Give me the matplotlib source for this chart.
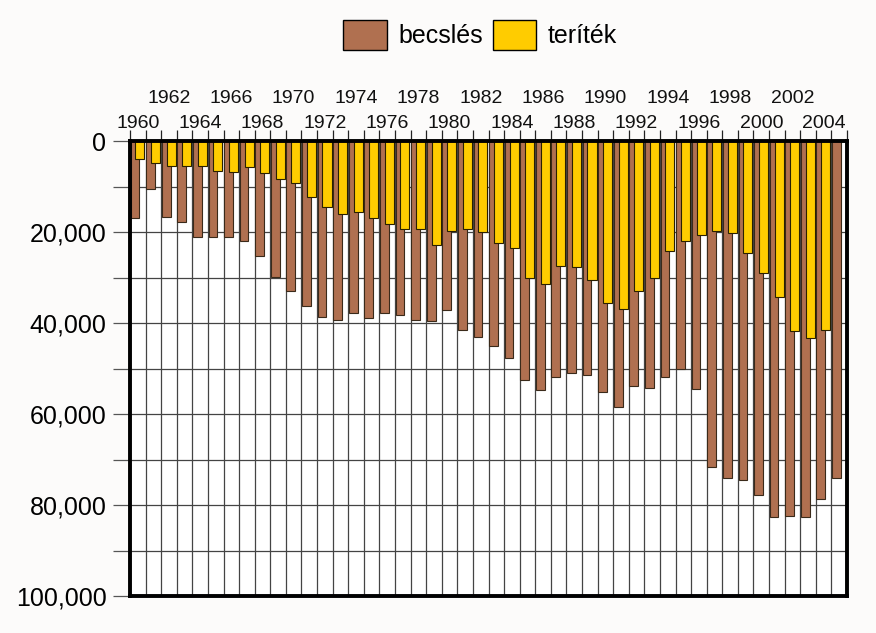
import matplotlib
matplotlib.use("Agg")
import matplotlib.pyplot as plt
import numpy as np
from matplotlib.patches import Patch
from matplotlib.ticker import FuncFormatter, MultipleLocator

plt.rcParams['font.family'] = ['Liberation Sans', 'DejaVu Sans']

years = np.arange(1960, 2006)
# becslés (estimate), 1960-2005
becsles = [16900, 10500, 16600, 17700, 21000, 21000, 21000, 21900, 25200, 29800,
           32900, 36200, 38600, 39300, 37900, 38900, 37700, 38200, 39300, 39500,
           37100, 41500, 43100, 45000, 47700, 52500, 54700, 51900, 51000, 51400,
           55200, 58500, 53800, 54300, 51900, 50200, 54500, 71600, 74100, 74500,
           77800, 82600, 82400, 82600, 78600, 74000]
# teríték (bag), 1960-2004
teritek = [3900, 4800, 5600, 5600, 5600, 6500, 6900, 5800, 7100, 8300,
           9200, 12200, 14600, 16100, 15500, 16900, 18200, 19300, 19300, 22800,
           19700, 19300, 20100, 22400, 23500, 30000, 31500, 27400, 27600, 30500,
           35600, 36900, 32900, 30000, 24100, 21900, 20600, 19700, 20200, 24600,
           29000, 34200, 41700, 43300, 41500]
labels = ['becslés', 'teríték']

brown = '#B07050'
yellow = '#FFCC00'

fig = plt.figure(figsize=(8.76, 6.33), dpi=100, facecolor='#FCFBFA')
ax = fig.add_axes([130/876, 37/633, 717/876, 455/633])

ax.bar(years - 0.18, becsles, width=0.56, color=brown, edgecolor='#3a2a1a',
       linewidth=0.8, zorder=3)
ax.bar(years[:len(teritek)] + 0.14, teritek, width=0.58, color=yellow,
       edgecolor='#2a2000', linewidth=0.8, zorder=4)

ax.set_xlim(1959.5, 2005.5)
ax.set_ylim(100000, 0)

# grid
ax.yaxis.set_major_locator(MultipleLocator(20000))
ax.yaxis.set_minor_locator(MultipleLocator(10000))
ax.yaxis.set_major_formatter(FuncFormatter(lambda v, p: f'{int(v):,}'))
ax.set_xticks(np.arange(1959.5, 2006, 1))
ax.set_xticklabels([])
ax.grid(True, which='both', axis='y', color='#444444', linewidth=0.9, zorder=1)
ax.grid(True, which='major', axis='x', color='#444444', linewidth=0.9, zorder=1)

ax.tick_params(axis='x', which='major', top=True, bottom=False, length=8,
               width=0.9, color='#222222', direction='out')
ax.tick_params(axis='y', which='both', length=12, width=0.9, color='#555555',
               labelsize=18, pad=5)

for s in ax.spines.values():
    s.set_linewidth(2.8)
    s.set_color('black')
    s.set_zorder(6)

# year labels, two staggered rows above the axis
tr = ax.get_xaxis_transform()
for yr in years:
    if yr % 4 == 0:
        ax.text(yr, 1.038, str(yr), transform=tr, ha='center', va='center',
                fontsize=14, color='#111111')
    elif yr % 2 == 0 and yr < 2005:
        ax.text(yr, 1.094, str(yr), transform=tr, ha='center', va='center',
                fontsize=14, color='#111111')

handles = [Patch(facecolor=brown, edgecolor='black', linewidth=1),
           Patch(facecolor=yellow, edgecolor='black', linewidth=1)]
fig.legend(handles, labels, loc='center', bbox_to_anchor=(0.548, 0.945), ncol=2,
           frameon=False, fontsize=18, handlelength=1.75, handleheight=1.5,
           handletextpad=0.45, columnspacing=0.4)

fig.savefig('out.png', dpi=100, facecolor=fig.get_facecolor())
